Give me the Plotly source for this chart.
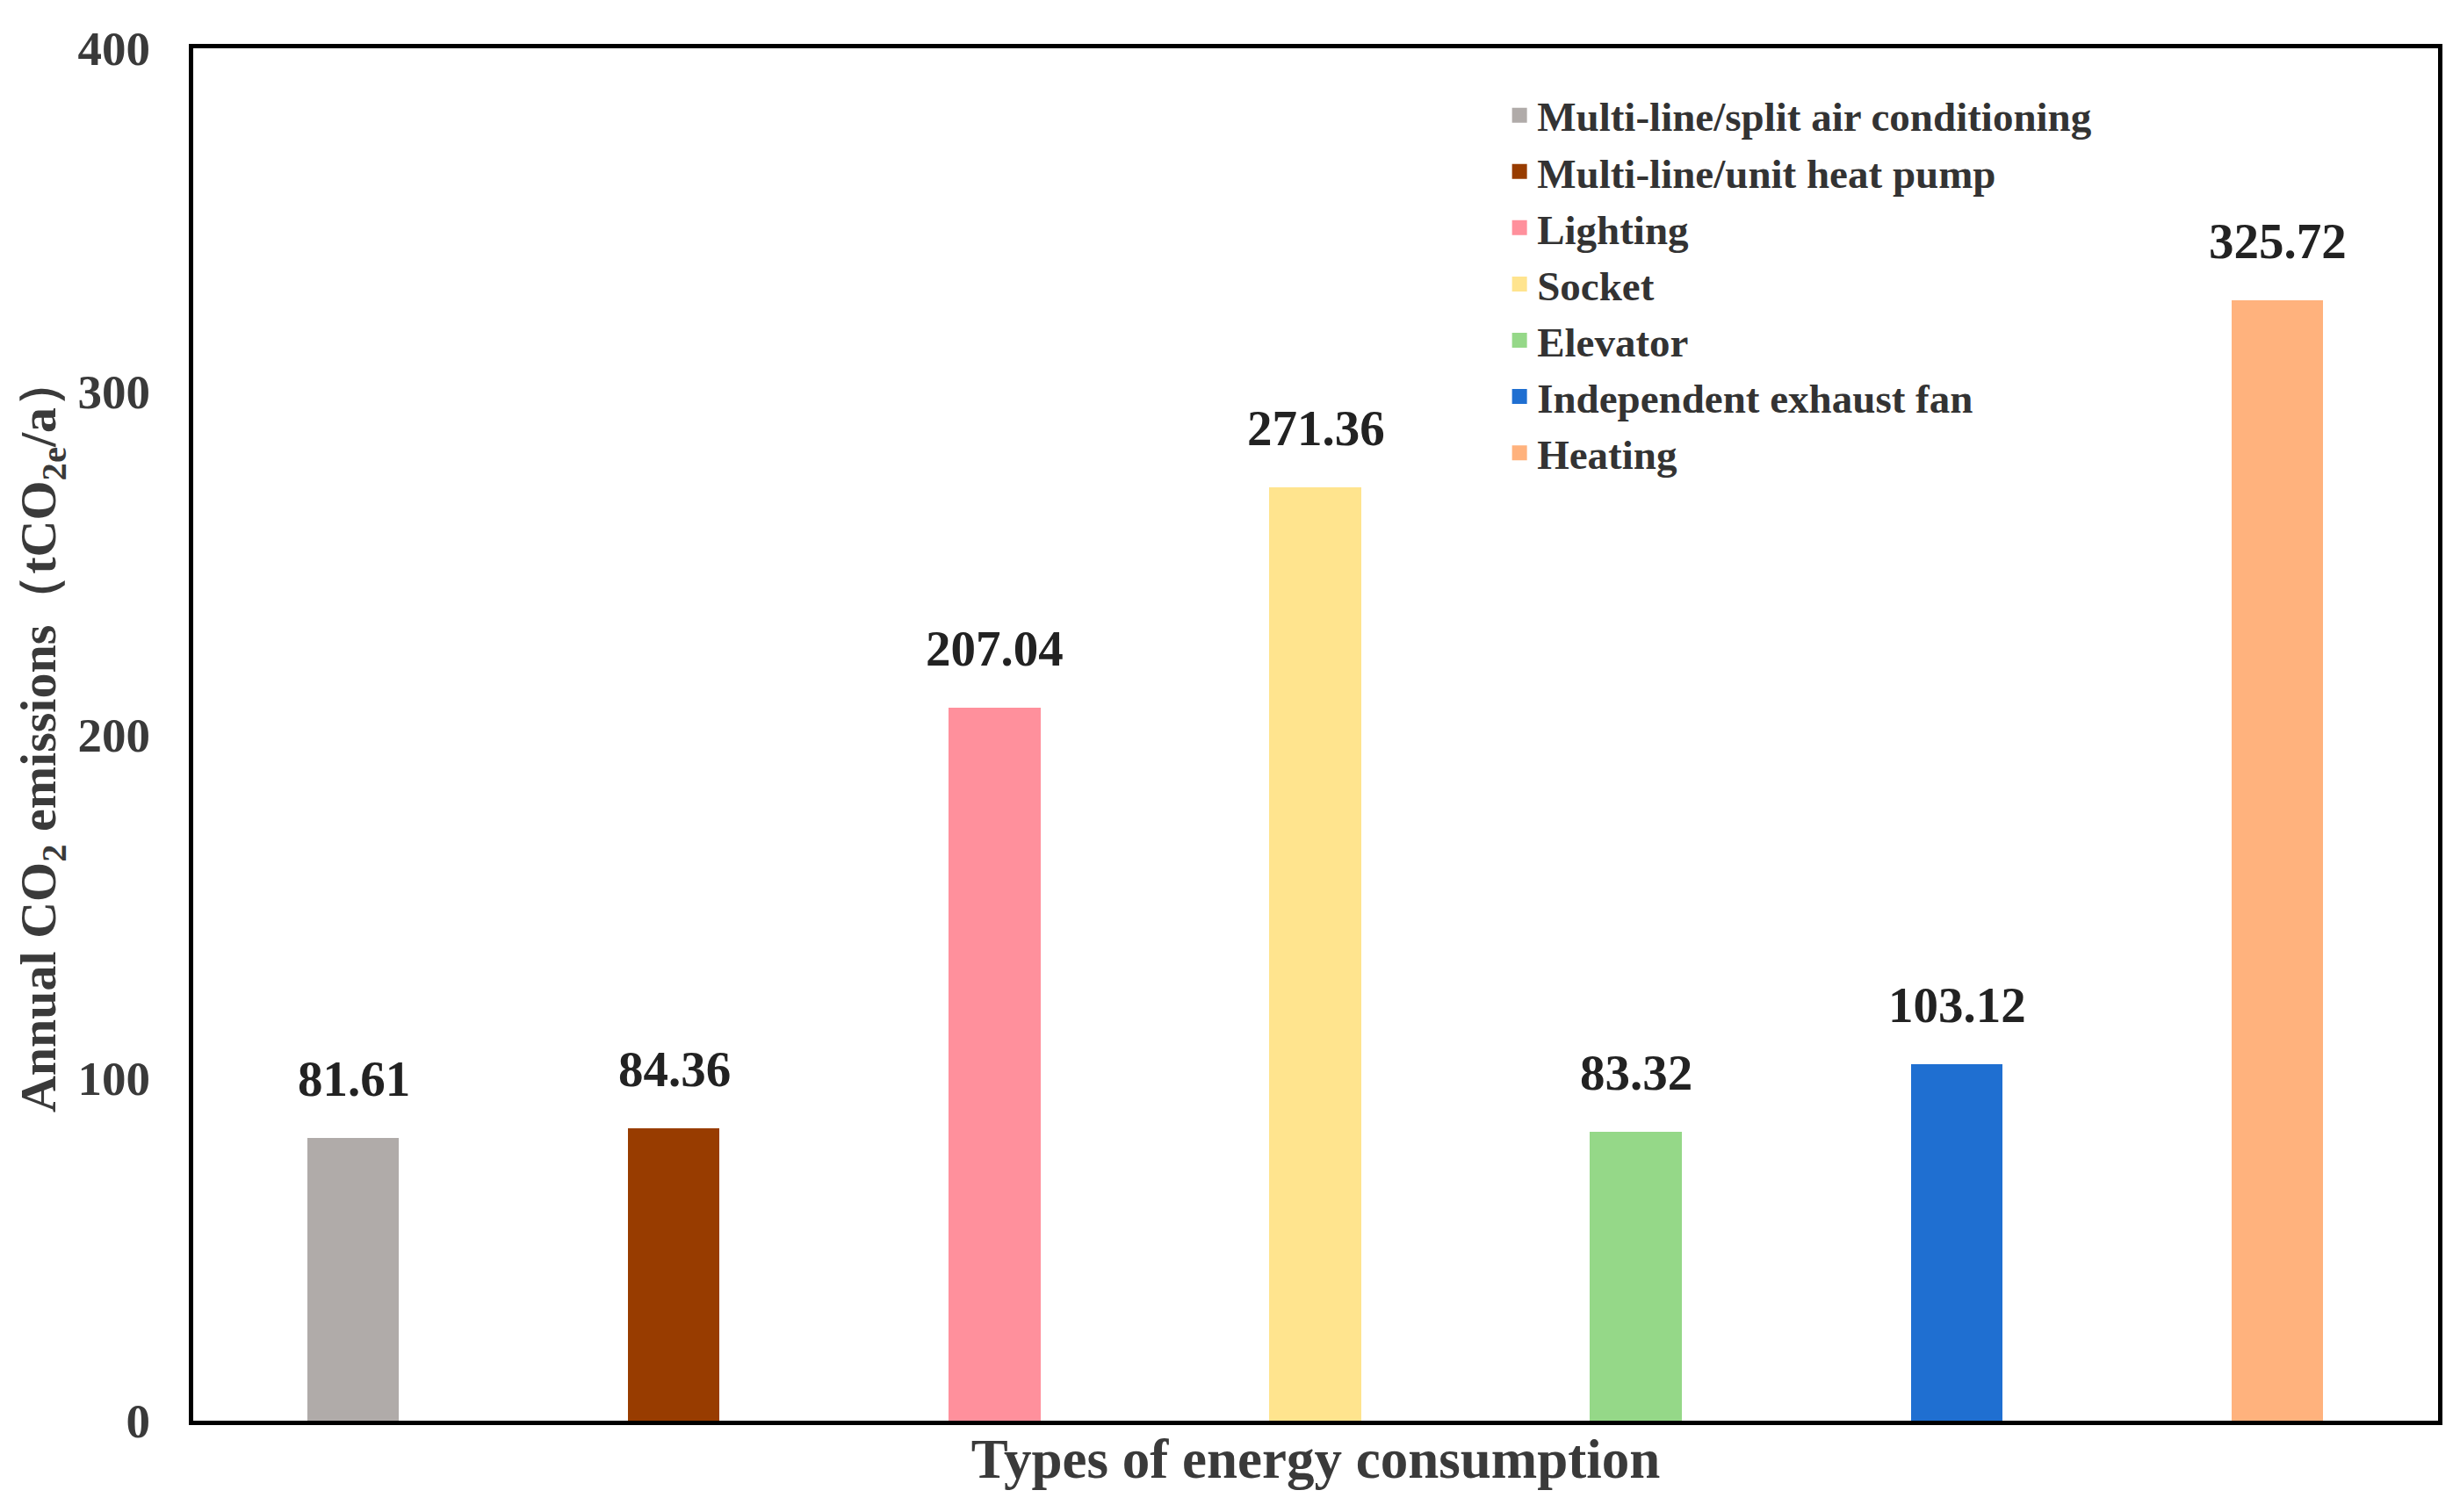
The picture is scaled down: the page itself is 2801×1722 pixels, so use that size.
import plotly.graph_objects as go

categories = ["Multi-line/split air conditioning", "Multi-line/unit heat pump", "Lighting",
              "Socket", "Elevator", "Independent exhaust fan", "Heating"]
values = [81.61, 84.36, 207.04, 271.36, 83.32, 103.12, 325.72]
colors = ["#b0aba9", "#983c00", "#ff909c", "#ffe48e", "#95d888", "#1f6fd1", "#ffb27d"]
yticks = [0, 100, 200, 300, 400]

FONT = "Liberation Serif"
fig = go.Figure()
for c, v, col in zip(categories, values, colors):
    fig.add_trace(go.Bar(x=[c], y=[v], name=c, width=0.272,
                         marker=dict(color=col, line=dict(color=col, width=5))))
    fig.add_annotation(x=c, y=v, text="<b>%.2f</b>" % v, showarrow=False,
                       yanchor="bottom", yshift=37,
                       font=dict(family=FONT, size=57, color="#222222"))

fig.update_layout(
    width=2801, height=1722,
    margin=dict(l=212, r=33, t=47, b=112),
    paper_bgcolor="white", plot_bgcolor="white",
    barmode="overlay", bargap=0,
    font=dict(family=FONT, color="#3a3a3a"),
    legend=dict(x=0.583, y=0.975, xanchor="left", yanchor="top",
                bgcolor="rgba(0,0,0,0)", tracegroupgap=0,
                font=dict(family=FONT, size=47, color="#333333", weight="bold")),
    xaxis=dict(type="category", range=[-0.5, 6.5], showticklabels=False, ticks="",
               showline=True, linecolor="black", linewidth=5, mirror=True,
               showgrid=False, zeroline=False,
               title=dict(text="<b>Types of energy consumption</b>", standoff=18,
                          font=dict(family=FONT, size=63, color="#3a3a3a"))),
    yaxis=dict(range=[0, 400], tickvals=yticks, ticktext=["<b>%d</b>" % t for t in yticks],
               ticks="", ticklabelstandoff=33,
               tickfont=dict(family=FONT, size=55, color="#3a3a3a"),
               showline=True, linecolor="black", linewidth=5, mirror=True,
               showgrid=False, zeroline=False,
               title=dict(text="<b>Annual CO<sub>2</sub> emissions（tCO<sub>2e</sub>/a）</b>",
                          standoff=8,
                          font=dict(family=FONT, size=58, color="#3a3a3a"))),
)
fig.write_html("out.html")
